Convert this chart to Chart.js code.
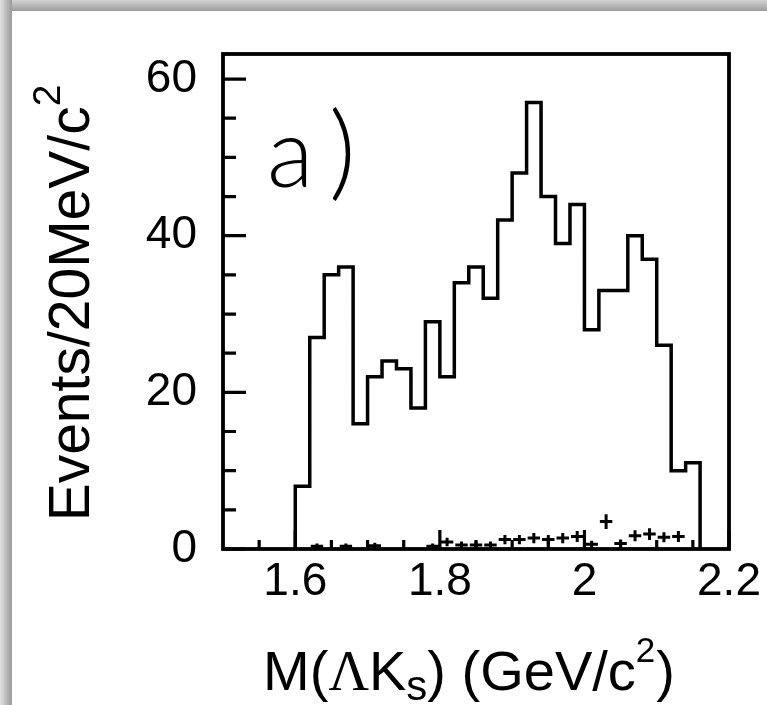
<!DOCTYPE html>
<html>
<head>
<meta charset="utf-8">
<script src="https://cdn.jsdelivr.net/npm/chart.js@4"></script>
<style>
  html, body { margin: 0; padding: 0; background: #fff; }
  #wrap { position: relative; width: 767px; height: 705px; overflow: hidden; background: #fff; }
  #topbar { position: absolute; left: 0; top: 0; width: 767px; height: 11px;
            background: linear-gradient(to bottom, #d2d2d2, #9c9c9c); }
  #leftbar { position: absolute; left: 0; top: 0; width: 12px; height: 705px;
             background: linear-gradient(to right, #e2e2e2, #9a9a9a); }
  canvas { position: absolute; left: 0; top: 0; }
</style>
</head>
<body>
<div id="wrap">
  <canvas id="c" width="767" height="705"></canvas>
  <div id="topbar"></div>
  <div id="leftbar"></div>
</div>
<script>
// ---- data ----
const binEdges = [1.60,1.62,1.64,1.66,1.68,1.70,1.72,1.74,1.76,1.78,1.80,1.82,1.84,1.86,1.88,
                  1.90,1.92,1.94,1.96,1.98,2.00,2.02,2.04,2.06,2.08,2.10,2.12,2.14,2.16];
const counts = [8,27,35,36,16,22,24,23,18,29,22,34,36,32,42,48,57,45,39,44,28,33,33,40,37,26,10,11];
const background = [0,0.35,0,0.35,0,0.4,0,0,0,0.35,0.9,0.5,0.5,0.5,1.2,1.2,1.4,1.2,1.4,1.6,0.6,3.5,0.7,1.7,1.9,1.5,1.6,0];
const backgroundErr = [0,0.35,0,0.35,0,0.4,0,0,0,0.35,0.55,0.45,0.45,0.45,0.6,0.6,0.65,0.6,0.65,0.7,0.45,0.95,0.5,0.7,0.75,0.65,0.7,0];
const xTicks = [1.6,1.8,2.0,2.2];
const xMinorTicks = [1.55,1.65,1.7,1.75,1.85,1.9,1.95,2.05,2.1,2.15];
const yTicks = [0,20,40,60];
const yMinorTicks = [5,10,15,25,30,35,45,50,55];
const xRange = [1.5, 2.2];
const yRange = [0, 63.2];
const panelLabel = ['a', ')'];
const xTitleParts = ['M(', '\u039B', 'K', 's', ') (GeV/c', '2', ')'];
const yTitleParts = ['Events/20MeV/c', '2'];

// histogram outline points built from bin edges and counts
const histPoints = [{x: binEdges[0], y: 0}]
  .concat(counts.map((c, i) => ({x: binEdges[i], y: c})))
  .concat([{x: binEdges[binEdges.length - 1], y: counts[counts.length - 1]},
           {x: binEdges[binEdges.length - 1], y: 0}]);

const SANS = '"Liberation Sans", Arial, Helvetica, sans-serif';
const SERIF = '"Liberation Serif", "Times New Roman", serif';

function drawRich(ctx, parts, styles, cx, baseY) {
  let total = 0;
  const widths = parts.map((t, i) => {
    const s = styles[i];
    ctx.font = s.size + 'px ' + s.family;
    const w = ctx.measureText(t).width + (s.gap || 0);
    total += w;
    return w;
  });
  let x = cx - total / 2;
  parts.forEach((t, i) => {
    const s = styles[i];
    ctx.font = s.size + 'px ' + s.family;
    ctx.fillText(t, x, baseY + (s.dy || 0));
    x += widths[i];
  });
}

const framePlugin = {
  id: 'framePlugin',
  afterDatasetsDraw(chart) {
    const {ctx, chartArea: a, scales: {x, y}} = chart;
    ctx.save();
    ctx.strokeStyle = '#000';
    ctx.lineCap = 'butt';
    // background crosses
    ctx.lineWidth = 3;
    ctx.beginPath();
    background.forEach((v, i) => {
      if (!v) return;
      const x0 = x.getPixelForValue(binEdges[i]);
      const x1 = x.getPixelForValue(binEdges[i + 1]);
      const xc = (x0 + x1) / 2;
      const py = y.getPixelForValue(v);
      ctx.moveTo(x0 + 1, py); ctx.lineTo(x1 - 1, py);
      const e = backgroundErr[i];
      ctx.moveTo(xc, y.getPixelForValue(Math.max(0, v - e)));
      ctx.lineTo(xc, y.getPixelForValue(v + e));
    });
    ctx.stroke();
    // inward ticks
    ctx.lineWidth = 3.2;
    ctx.beginPath();
    yTicks.forEach(v => { const p = y.getPixelForValue(v); ctx.moveTo(a.left, p); ctx.lineTo(a.left + 23, p); });
    yMinorTicks.forEach(v => { const p = y.getPixelForValue(v); ctx.moveTo(a.left, p); ctx.lineTo(a.left + 13, p); });
    xTicks.forEach(v => { const p = x.getPixelForValue(v); ctx.moveTo(p, a.bottom); ctx.lineTo(p, a.bottom - 19); });
    xMinorTicks.forEach(v => { const p = x.getPixelForValue(v); ctx.moveTo(p, a.bottom); ctx.lineTo(p, a.bottom - 9); });
    ctx.stroke();
    // frame
    ctx.lineWidth = 3.8;
    ctx.strokeRect(a.left, a.top, a.right - a.left, a.bottom - a.top);
    // panel label
    ctx.fillStyle = '#000';
    ctx.textBaseline = 'alphabetic';
    ctx.textAlign = 'left';
    ctx.font = '300 96px Lato, "DejaVu Sans", sans-serif';
    ctx.fillText(panelLabel[0], a.left + 44, a.top + 133);
    ctx.font = '300 104px Lato, "DejaVu Sans", sans-serif';
    ctx.fillText(panelLabel[1], a.left + 106, a.top + 133);

    // x axis title
    const xStyles = [
      {size: 56, family: SANS},
      {size: 56, family: SERIF},
      {size: 56, family: SANS},
      {size: 42, family: SANS, dy: 10},
      {size: 56, family: SANS},
      {size: 35, family: SANS, dy: -28, gap: 1},
      {size: 56, family: SANS}
    ];
    drawRich(ctx, xTitleParts, xStyles, 469, 690);

    // y axis title (rotated)
    ctx.translate(89, 303);
    ctx.rotate(-Math.PI / 2);
    const yStyles = [
      {size: 57, family: SANS},
      {size: 39, family: SANS, dy: -29}
    ];
    drawRich(ctx, yTitleParts, yStyles, 0, 0);
    ctx.restore();
  }
};

new Chart(document.getElementById('c'), {
  type: 'line',
  data: {
    datasets: [{
      data: histPoints,
      stepped: 'before',
      borderColor: '#000',
      borderWidth: 3.5,
      borderJoinStyle: 'miter',
      pointRadius: 0,
      fill: false,
      tension: 0
    }]
  },
  options: {
    responsive: false,
    animation: false,
    devicePixelRatio: 1,
    layout: { padding: { top: 54, right: 38, left: 0, bottom: 0 } },
    plugins: { legend: { display: false }, tooltip: { enabled: false } },
    scales: {
      x: {
        type: 'linear',
        min: xRange[0], max: xRange[1],
        grid: { display: false, drawTicks: false },
        border: { display: false },
        afterBuildTicks: s => { s.ticks = xTicks.map(v => ({value: v})); },
        afterFit: s => { s.height = 156; s.paddingLeft = 0; s.paddingRight = 0; },
        ticks: {
          color: '#000', padding: 6, maxRotation: 0, autoSkip: false,
          font: { family: SANS, size: 46 },
          callback: v => String(Math.round(v * 10) / 10)
        },
        title: { display: false }
      },
      y: {
        min: yRange[0], max: yRange[1],
        grid: { display: false, drawTicks: false },
        border: { display: false },
        afterBuildTicks: s => { s.ticks = yTicks.map(v => ({value: v})); },
        afterFit: s => { s.width = 223; s.paddingTop = 0; s.paddingBottom = 0; },
        ticks: {
          color: '#000', padding: 26, autoSkip: false,
          font: { family: SANS, size: 46 },
          callback: v => String(v)
        },
        title: { display: false }
      }
    }
  },
  plugins: [framePlugin]
});
</script>
</body>
</html>
